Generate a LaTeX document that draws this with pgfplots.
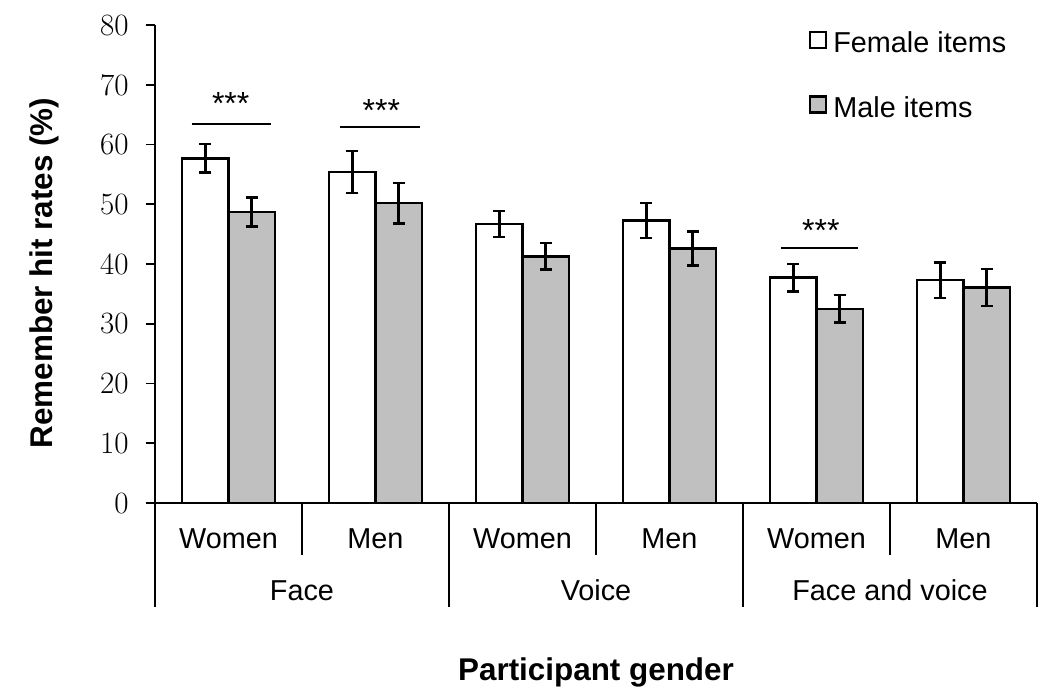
\documentclass[border=0pt]{standalone}
\usepackage{pgfplots}
\pgfplotsset{compat=1.18}
\usepackage{fontspec}
\setsansfont{Liberation Sans}
\definecolor{barGray}{RGB}{192,192,192}
\begin{document}
\sffamily
\begin{tikzpicture}
\useasboundingbox (-77.5pt,-92pt) rectangle (443.5pt,251.5pt);
\begin{axis}[
  at={(0,0)}, anchor=south west,
  scale only axis, width=441pt, height=239pt,
  xmin=0, xmax=6, ymin=0, ymax=80,
  clip=false,
  ybar,
  axis x line=bottom, axis y line=left,
  axis line style={-, line width=0.8pt, black},
  ytick={0,10,...,80},
  tick align=outside, major tick length=4.7pt,
  tick style={line width=0.8pt, black},
  /pgf/number format/assume math mode=true,
  y tick label style={font=\rmfamily\fontsize{15.5}{18}\selectfont, xshift=-5pt},
  xtick={0.5,1.5,2.5,3.5,4.5,5.5},
  xticklabels={Women,Men,Women,Men,Women,Men},
  x tick style={draw=none},
  x tick label style={font=\sffamily\fontsize{14.4}{17}\selectfont, anchor=base, yshift=-17.8pt},
  xlabel={Participant gender},
  ylabel={Remember hit rates (\%)},
  every axis x label/.style={at={(axis description cs:0.5,0)}, anchor=base, yshift=-88.5pt, font=\sffamily\bfseries\fontsize{15.7}{18}\selectfont},
  every axis y label/.style={at={(axis description cs:0,0.5)}, xshift=-51pt, yshift=-4.5pt, rotate=90, anchor=base, font=\sffamily\bfseries\fontsize{15.7}{18}\selectfont},
  legend style={draw=none, fill=none, at={(axis description cs:0.741,0.995)}, anchor=north west,
    font=\sffamily\fontsize{14.4}{17}\selectfont, row sep=16.5pt, column sep=1pt, inner sep=0pt,
    nodes={inner sep=2pt}},
  legend cell align=left,
]
\addplot[ybar, bar width=0.315, bar shift=-0.1575, fill=white, draw=black, line width=1.3pt,
  legend image code/.code={\draw[fill=white, draw=black, line width=1.2pt] (0pt,-2pt) rectangle (8pt,6pt);},
  error bars/.cd, y dir=both, y explicit,
  error bar style={line width=1.2pt, black},
  error mark options={rotate=90, line width=1.2pt, mark size=3pt, black}]
coordinates {
  (0.5,57.7) +- (0,2.4)
  (1.5,55.4) +- (0,3.5)
  (2.5,46.7) +- (0,2.2)
  (3.5,47.3) +- (0,2.9)
  (4.5,37.7) +- (0,2.3)
  (5.5,37.3) +- (0,2.95)
};
\addlegendentry{Female items}
\addplot[ybar, bar width=0.315, bar shift=0.1575, fill=barGray, draw=black, line width=1.3pt,
  legend image code/.code={\draw[fill=barGray, draw=black, line width=1.2pt] (0pt,-2pt) rectangle (8pt,6pt);},
  error bars/.cd, y dir=both, y explicit,
  error bar style={line width=1.2pt, black},
  error mark options={rotate=90, line width=1.2pt, mark size=3pt, black}]
coordinates {
  (0.5,48.7) +- (0,2.4)
  (1.5,50.2) +- (0,3.4)
  (2.5,41.3) +- (0,2.2)
  (3.5,42.6) +- (0,2.85)
  (4.5,32.5) +- (0,2.3)
  (5.5,36.1) +- (0,3.1)
};
\addlegendentry{Male items}
% significance
\draw[line width=1pt] (axis cs:0.25,63.5) -- (axis cs:0.79,63.5);
\draw[line width=1pt] (axis cs:1.26,62.9) -- (axis cs:1.80,62.9);
\draw[line width=1pt] (axis cs:4.26,42.7) -- (axis cs:4.78,42.7);
\node[font=\sffamily\fontsize{16}{18}\selectfont, yshift=-3.5pt] at (axis cs:0.515,68) {***};
\node[font=\sffamily\fontsize{16}{18}\selectfont, yshift=-3.5pt] at (axis cs:1.54,66.8) {***};
\node[font=\sffamily\fontsize{16}{18}\selectfont, yshift=-3.5pt] at (axis cs:4.53,46.7) {***};
% category separators
\pgfplotsinvokeforeach{0,2,4,6}{\draw[line width=0.8pt] (axis cs:#1,0) -- ++(0,-52pt);}
\pgfplotsinvokeforeach{1,3,5}{\draw[line width=0.8pt] (axis cs:#1,0) -- ++(0,-26pt);}
% group labels
\node[anchor=base, yshift=-48.5pt, font=\sffamily\fontsize{14.4}{17}\selectfont] at (axis cs:1,0) {Face};
\node[anchor=base, yshift=-48.5pt, font=\sffamily\fontsize{14.4}{17}\selectfont] at (axis cs:3,0) {Voice};
\node[anchor=base, yshift=-48.5pt, font=\sffamily\fontsize{14.4}{17}\selectfont] at (axis cs:5,0) {Face and voice};
\end{axis}
\end{tikzpicture}
\end{document}
